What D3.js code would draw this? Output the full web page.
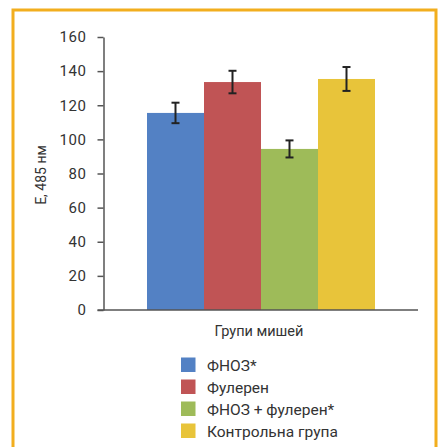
<!DOCTYPE html>
<html><head><meta charset="utf-8">
<script src="https://cdn.jsdelivr.net/npm/d3@7"></script>
<style>html,body{margin:0;padding:0;background:#fff;}svg{display:block;}text{font-family:Roboto,"DejaVu Sans",sans-serif;fill:#333;}</style>
</head><body>
<script>
const categories = ["ФНОЗ*", "Фулерен", "ФНОЗ + фулерен*", "Контрольна група"];
const values = [115.5, 133.6, 94.4, 135.4];
const errors = [6.0, 6.6, 5.0, 7.0];
const colors = ["#5381C4", "#C05455", "#9EBB59", "#E8C43A"];
const yTicks = [0, 20, 40, 60, 80, 100, 120, 140, 160];
const yLabel = "E, 485 нм";
const xLabel = "Групи мишей";

const W = 442, H = 447;
const svg = d3.select("body").append("svg").attr("width", W).attr("height", H);

// border
svg.append("path").attr("d", `M13,447 V10 H436 V447`).attr("fill", "none")
  .attr("stroke", "#F2AE1E").attr("stroke-width", 3);

const y = d3.scaleLinear().domain([0, 160]).range([310, 37]);
const x = d3.scaleBand().domain(categories).range([147, 375]).padding(0);

const axisColor = "#555";
// y axis
const yAxis = svg.append("g").attr("transform", "translate(103.5,0)")
  .call(d3.axisLeft(y).tickValues(yTicks).tickSize(6).tickPadding(11).tickSizeOuter(0));
yAxis.select(".domain").attr("stroke", axisColor).attr("stroke-width", 1.5);
yAxis.selectAll(".tick line").attr("stroke", axisColor).attr("stroke-width", 1.5);
yAxis.selectAll(".tick text").attr("font-size", 15).attr("letter-spacing", 0.6).attr("fill", "#333")
  .attr("font-family", "Roboto, sans-serif");

// bars
svg.selectAll("rect.bar").data(categories).enter().append("rect")
  .attr("class", "bar")
  .attr("x", d => x(d)).attr("width", x.bandwidth())
  .attr("y", (d, i) => y(values[i])).attr("height", (d, i) => y(0) - y(values[i]))
  .attr("fill", (d, i) => colors[i]);

// x axis line
svg.append("line").attr("x1", 97.5).attr("x2", 418).attr("y1", 310).attr("y2", 310)
  .attr("stroke", axisColor).attr("stroke-width", 1.5);

// error bars
const eb = svg.append("g").attr("stroke", "#222").attr("stroke-width", 2);
categories.forEach((c, i) => {
  const cx = x(c) + x.bandwidth() / 2;
  const t = y(values[i] + errors[i]), b = y(values[i] - errors[i]);
  eb.append("line").attr("x1", cx).attr("x2", cx).attr("y1", t).attr("y2", b);
  eb.append("line").attr("x1", cx - 4).attr("x2", cx + 4).attr("y1", t).attr("y2", t);
  eb.append("line").attr("x1", cx - 4).attr("x2", cx + 4).attr("y1", b).attr("y2", b);
});

// y label
svg.append("text").attr("transform", "translate(46,175) rotate(-90)")
  .attr("text-anchor", "middle").attr("font-size", 14).text(yLabel);

// x label
svg.append("text").attr("x", 259).attr("y", 336).attr("text-anchor", "middle")
  .attr("font-size", 14.5).text(xLabel);

// legend
const lg = svg.append("g");
categories.forEach((c, i) => {
  const yy = 357.5 + i * 22;
  lg.append("rect").attr("x", 181).attr("y", yy).attr("width", 14.5).attr("height", 14.5)
    .attr("fill", colors[i]);
  lg.append("text").attr("x", 207).attr("y", yy + 13).attr("font-size", 15.5).text(c);
});
</script>
</body></html>
